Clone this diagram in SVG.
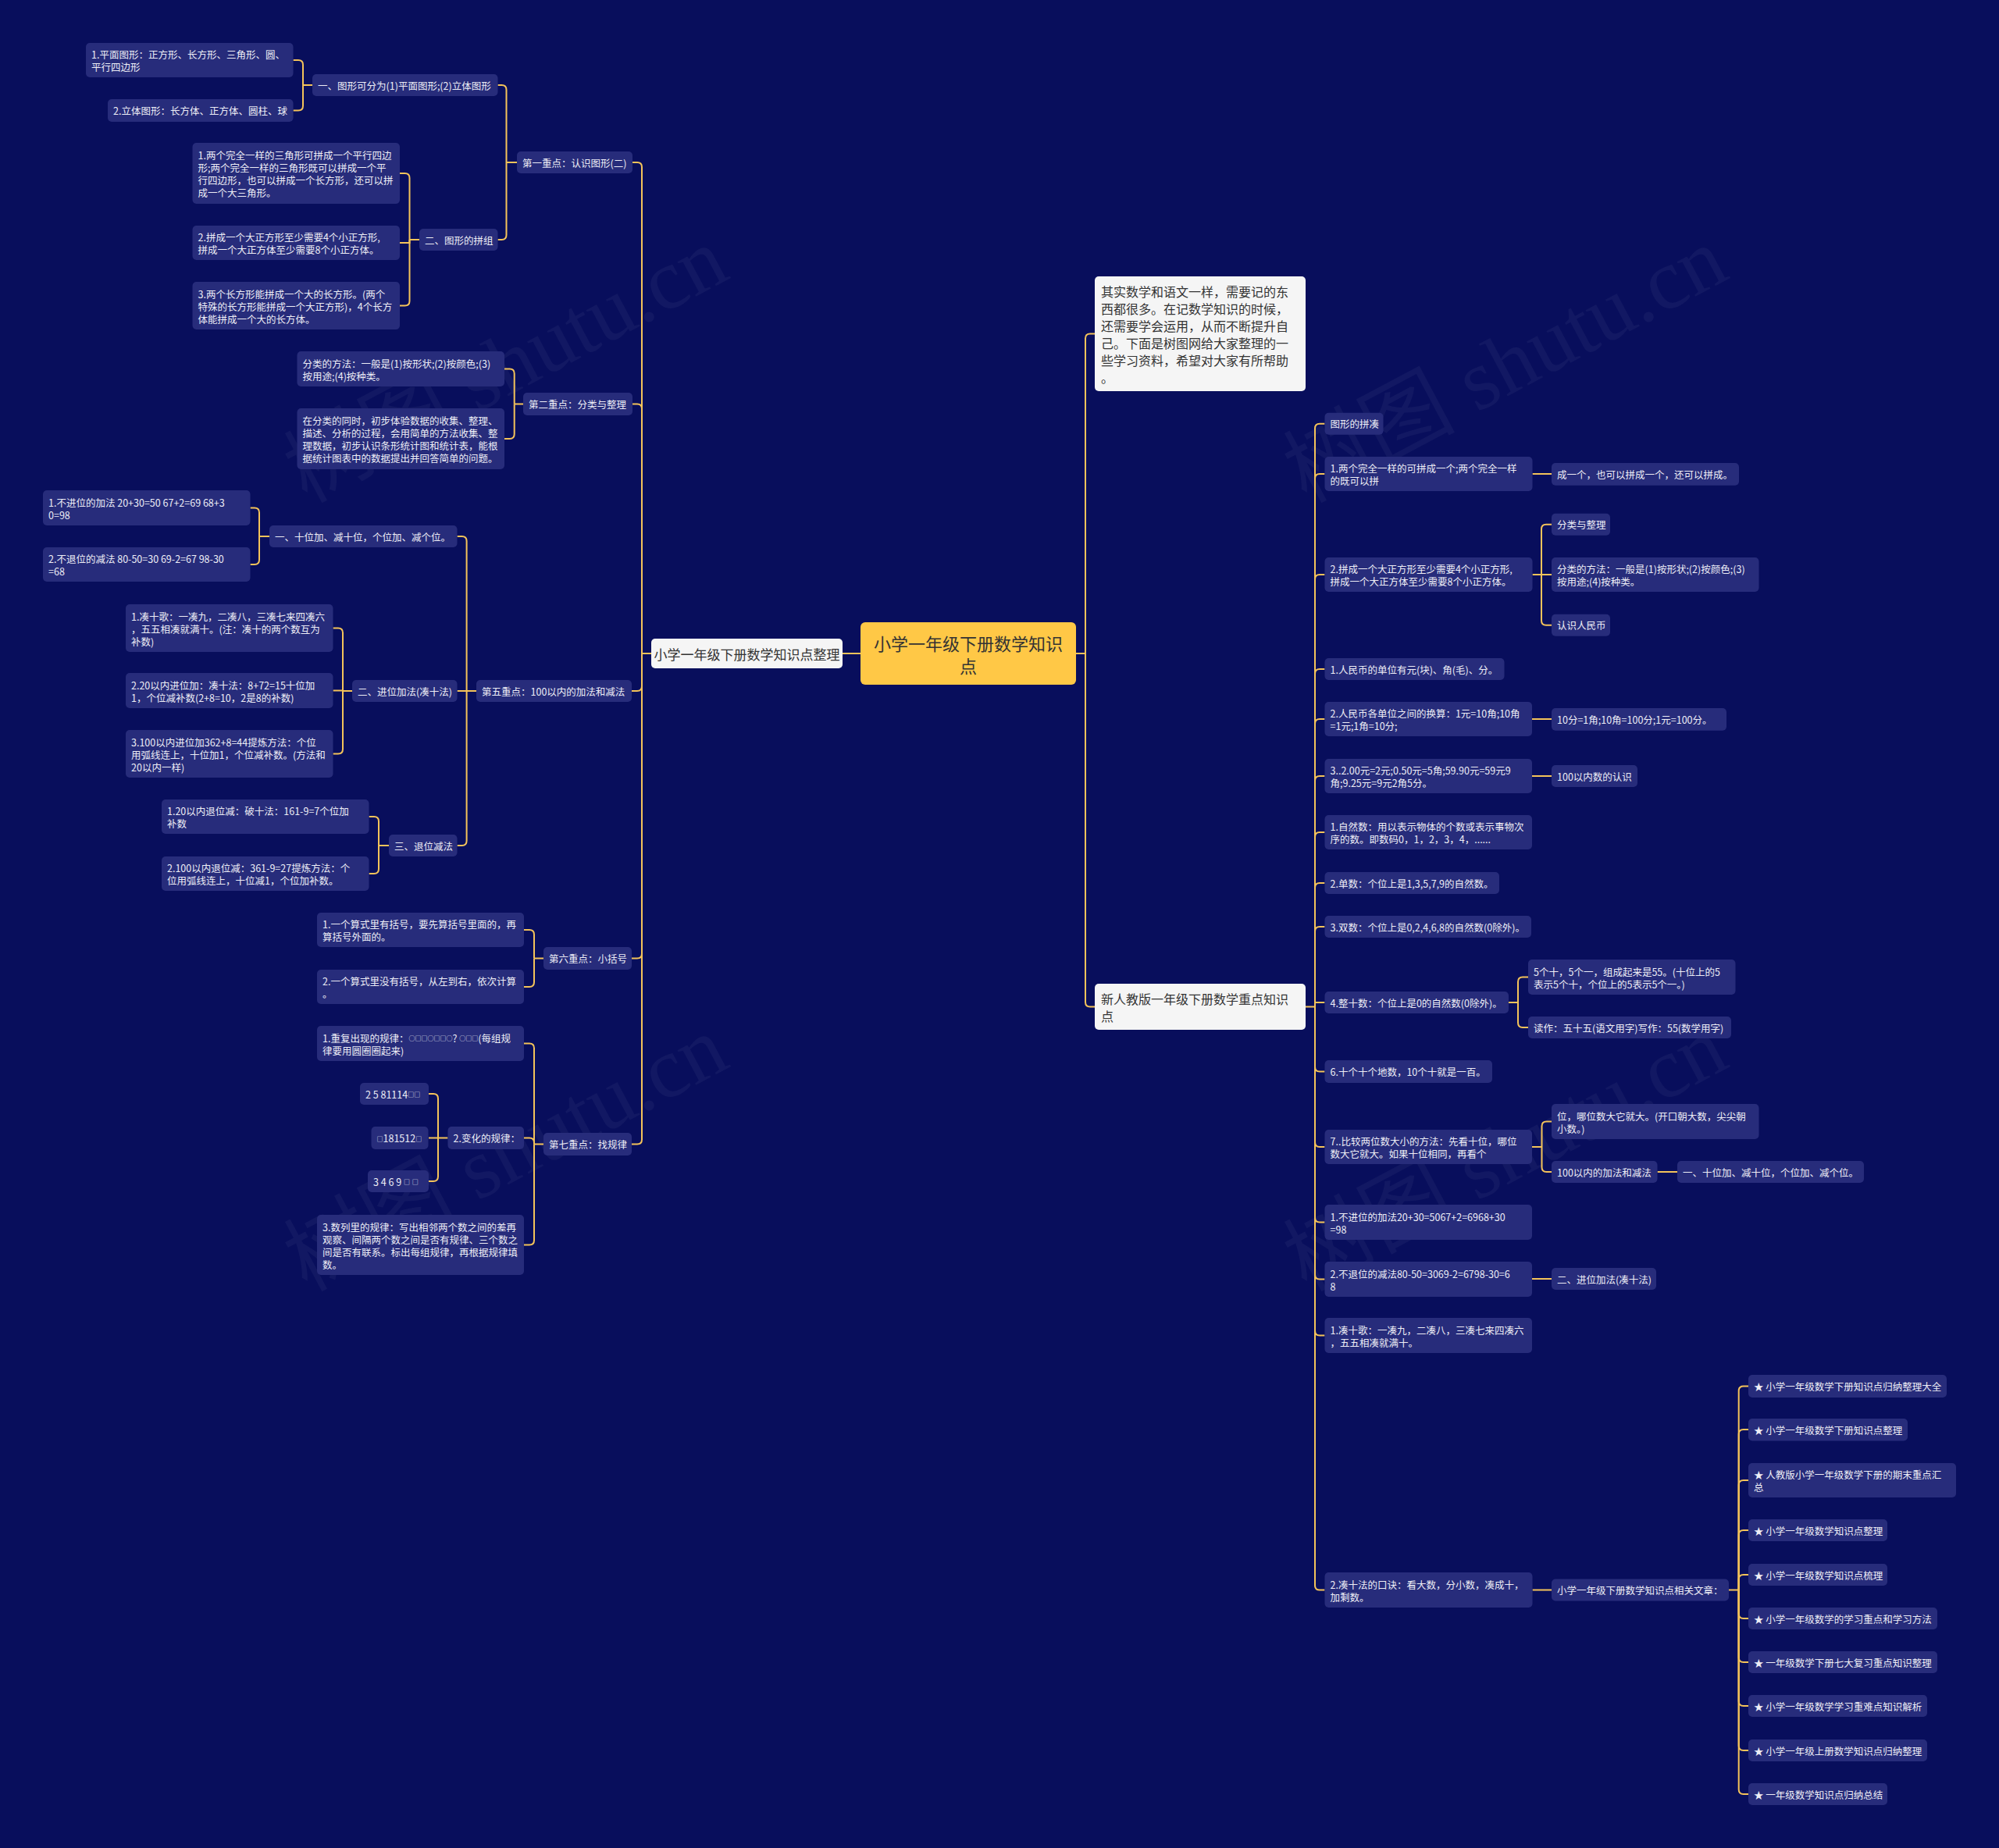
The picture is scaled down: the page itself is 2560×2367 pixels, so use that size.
<svg xmlns="http://www.w3.org/2000/svg" width="2560" height="2367" viewBox="0 0 2560 2367">
<style>
.n{fill:#272C7B}
.wb{fill:#F5F5F5}
.t{font-family:"Noto Sans CJK SC","Noto Sans",sans-serif;font-size:12.5px;fill:#EEEEF6;dominant-baseline:central}
.tw{font-family:"Noto Sans CJK SC","Noto Sans",sans-serif;font-size:16px;fill:#333333;dominant-baseline:central}
.s{font-size:8px}
.c path{fill:none;stroke:#F4C35A;stroke-width:2}
.wm{font-family:"Liberation Serif","Noto Sans CJK SC",serif;font-size:110px;fill:#FFFFFF;fill-opacity:0.045}
</style>
<rect x="0" y="0" width="2560" height="2367" fill="#080E5C"/>
<g id="watermarks">
<text class="wm" transform="translate(665,500) rotate(-28)" text-anchor="middle">树图 shutu.cn</text>
<text class="wm" transform="translate(665,1510) rotate(-28)" text-anchor="middle">树图 shutu.cn</text>
<text class="wm" transform="translate(1945,500) rotate(-28)" text-anchor="middle">树图 shutu.cn</text>
<text class="wm" transform="translate(1945,1510) rotate(-28)" text-anchor="middle">树图 shutu.cn</text>
</g>
<g class="c" id="connectors">
<path d="M1102 837H1079"/>
<path d="M834 837H822"/>
<path d="M810 208H816Q822 208 822 214V837"/>
<path d="M810 517.5H816Q822 517.5 822 523.5V837"/>
<path d="M809 885H816Q822 885 822 879V837"/>
<path d="M809 1227.5H816Q822 1227.5 822 1221.5V837"/>
<path d="M809 1465.5H816Q822 1465.5 822 1459.5V837"/>
<path d="M662 208H648.5"/>
<path d="M637.5 109H642.5Q648.5 109 648.5 115V208"/>
<path d="M637.5 307H642.5Q648.5 307 648.5 301V208"/>
<path d="M400 109H388"/>
<path d="M375.5 77H382Q388 77 388 83V109"/>
<path d="M375.5 141.5H382Q388 141.5 388 135.5V109"/>
<path d="M537 307H524.5"/>
<path d="M512 222H518.5Q524.5 222 524.5 228V307"/>
<path d="M512 311H524.5V307"/>
<path d="M512 391.5H518.5Q524.5 391.5 524.5 385.5V307"/>
<path d="M670 517.5H658.7"/>
<path d="M646 472.5H652.7Q658.7 472.5 658.7 478.5V517.5"/>
<path d="M646 562H652.7Q658.7 562 658.7 556V517.5"/>
<path d="M610 885H597.6"/>
<path d="M585.5 687H591.6Q597.6 687 597.6 693V885"/>
<path d="M585.5 885H597.6"/>
<path d="M585.5 1083H591.6Q597.6 1083 597.6 1077V885"/>
<path d="M345 687H332"/>
<path d="M320.5 650.5H326Q332 650.5 332 656.5V687"/>
<path d="M320.5 723H326Q332 723 332 717V687"/>
<path d="M451 885H439"/>
<path d="M426.5 804.5H433Q439 804.5 439 810.5V885"/>
<path d="M426.5 884.5H439"/>
<path d="M426.5 965.5H433Q439 965.5 439 959.5V885"/>
<path d="M498 1083H485"/>
<path d="M472.5 1046H479Q485 1046 485 1052V1083"/>
<path d="M472.5 1119H479Q485 1119 485 1113V1083"/>
<path d="M696 1227.5H684"/>
<path d="M671 1191H678Q684 1191 684 1197V1227.5"/>
<path d="M671 1264H678Q684 1264 684 1258V1227.5"/>
<path d="M696 1465.5H684"/>
<path d="M671 1336.5H678Q684 1336.5 684 1342.5V1465.5"/>
<path d="M671 1457.5H678Q684 1457.5 684 1463.5V1465.5"/>
<path d="M671 1594.5H678Q684 1594.5 684 1588.5V1465.5"/>
<path d="M573.5 1457.5H561"/>
<path d="M549 1401H555Q561 1401 561 1407V1457.5"/>
<path d="M549 1457.5H561"/>
<path d="M549 1513H555Q561 1513 561 1507V1457.5"/>
<path d="M1378 837H1390"/>
<path d="M1402 427.5H1396Q1390 427.5 1390 433.5V837"/>
<path d="M1402 1289.5H1396Q1390 1289.5 1390 1283.5V837"/>
<path d="M1672 1289.5H1684"/>
<path d="M1696.5 542.7H1690Q1684 542.7 1684 548.7V1289.5"/>
<path d="M1696.5 607H1690Q1684 607 1684 613V1289.5"/>
<path d="M1696.5 736H1690Q1684 736 1684 742V1289.5"/>
<path d="M1696.5 857H1690Q1684 857 1684 863V1289.5"/>
<path d="M1696.5 921H1690Q1684 921 1684 927V1289.5"/>
<path d="M1696.5 994H1690Q1684 994 1684 1000V1289.5"/>
<path d="M1696.5 1066H1690Q1684 1066 1684 1072V1289.5"/>
<path d="M1696.5 1131H1690Q1684 1131 1684 1137V1289.5"/>
<path d="M1696.5 1187H1690Q1684 1187 1684 1193V1289.5"/>
<path d="M1696.5 1284H1684V1289.5"/>
<path d="M1696.5 1372.5H1690Q1684 1372.5 1684 1366.5V1289.5"/>
<path d="M1696.5 1469H1690Q1684 1469 1684 1463V1289.5"/>
<path d="M1696.5 1565.5H1690Q1684 1565.5 1684 1559.5V1289.5"/>
<path d="M1696.5 1638.5H1690Q1684 1638.5 1684 1632.5V1289.5"/>
<path d="M1696.5 1710.5H1690Q1684 1710.5 1684 1704.5V1289.5"/>
<path d="M1696.5 2036.5H1690Q1684 2036.5 1684 2030.5V1289.5"/>
<path d="M1962.5 607H1987"/>
<path d="M1962.5 736H1974"/>
<path d="M1987 671.7H1980Q1974 671.7 1974 677.7V736"/>
<path d="M1987 736H1974"/>
<path d="M1987 800.7H1980Q1974 800.7 1974 794.7V736"/>
<path d="M1962 921H1987"/>
<path d="M1962 994H1987"/>
<path d="M1932 1284H1944"/>
<path d="M1957 1251.5H1950Q1944 1251.5 1944 1257.5V1284"/>
<path d="M1957 1316H1950Q1944 1316 1944 1310V1284"/>
<path d="M1962 1469H1974.5"/>
<path d="M1987 1436.5H1980.5Q1974.5 1436.5 1974.5 1442.5V1469"/>
<path d="M1987 1501H1980.5Q1974.5 1501 1974.5 1495V1469"/>
<path d="M2122.5 1501H2148"/>
<path d="M1962 1638H1987"/>
<path d="M1962.5 2036.5H1987"/>
<path d="M2214 2036.5H2226.7"/>
<path d="M2239 1775.5H2232.7Q2226.7 1775.5 2226.7 1781.5V2036.5"/>
<path d="M2239 1831H2232.7Q2226.7 1831 2226.7 1837V2036.5"/>
<path d="M2239 1896H2232.7Q2226.7 1896 2226.7 1902V2036.5"/>
<path d="M2239 1960H2232.7Q2226.7 1960 2226.7 1966V2036.5"/>
<path d="M2239 2017H2232.7Q2226.7 2017 2226.7 2023V2036.5"/>
<path d="M2239 2073H2232.7Q2226.7 2073 2226.7 2067V2036.5"/>
<path d="M2239 2129H2232.7Q2226.7 2129 2226.7 2123V2036.5"/>
<path d="M2239 2185H2232.7Q2226.7 2185 2226.7 2179V2036.5"/>
<path d="M2239 2242H2232.7Q2226.7 2242 2226.7 2236V2036.5"/>
<path d="M2239 2298H2232.7Q2226.7 2298 2226.7 2292V2036.5"/>
</g>
<g id="root"><rect x="1102" y="797" width="276" height="80" rx="6" fill="#FFC846"/><text font-family="'Noto Sans CJK SC',sans-serif" font-size="22" fill="#333333" dominant-baseline="central" text-anchor="middle"><tspan x="1240" y="823">小学一年级下册数学知识</tspan><tspan x="1240" y="852">点</tspan></text></g>
<g id="L0"><rect class="wb" x="834" y="818" width="245" height="38" rx="5"/><text class="tw" style="font-size:17px" x="956.5" y="837" text-anchor="middle">小学一年级下册数学知识点整理</text></g>
<g id="A1"><rect class="n" x="662" y="194" width="148" height="28" rx="5"/><text class="t" x="669" y="208">第一重点：认识图形(二)</text></g>
<g id="A2"><rect class="n" x="670" y="503" width="140" height="29" rx="5"/><text class="t" x="677" y="517.5">第二重点：分类与整理</text></g>
<g id="A5"><rect class="n" x="610" y="871" width="199" height="28" rx="5"/><text class="t" x="617" y="885">第五重点：100以内的加法和减法</text></g>
<g id="A6"><rect class="n" x="696" y="1213" width="113" height="29" rx="5"/><text class="t" x="703" y="1227.5">第六重点：小括号</text></g>
<g id="A7"><rect class="n" x="696" y="1451" width="113" height="29" rx="5"/><text class="t" x="703" y="1465.5">第七重点：找规律</text></g>
<g id="B1"><rect class="n" x="400" y="95" width="237.5" height="28" rx="5"/><text class="t" x="407" y="109">一、图形可分为(1)平面图形;(2)立体图形</text></g>
<g id="B2"><rect class="n" x="537" y="293" width="100.5" height="28" rx="5"/><text class="t" x="544" y="307">二、图形的拼组</text></g>
<g id="C1"><rect class="n" x="110" y="55" width="265.5" height="44" rx="5"/><text class="t"><tspan x="117" y="69">1.平面图形：正方形、长方形、三角形、圆、</tspan><tspan x="117" y="85">平行四边形</tspan></text></g>
<g id="C2"><rect class="n" x="138" y="127" width="237.5" height="29" rx="5"/><text class="t" x="145" y="141.5">2.立体图形：长方体、正方体、圆柱、球</text></g>
<g id="C3"><rect class="n" x="246.5" y="183" width="265.5" height="78" rx="5"/><text class="t"><tspan x="253.5" y="198">1.两个完全一样的三角形可拼成一个平行四边</tspan><tspan x="253.5" y="214">形;两个完全一样的三角形既可以拼成一个平</tspan><tspan x="253.5" y="230">行四边形，也可以拼成一个长方形，还可以拼</tspan><tspan x="253.5" y="246">成一个大三角形。</tspan></text></g>
<g id="C4"><rect class="n" x="246.5" y="289" width="265.5" height="44" rx="5"/><text class="t"><tspan x="253.5" y="303">2.拼成一个大正方形至少需要4个小正方形,</tspan><tspan x="253.5" y="319">拼成一个大正方体至少需要8个小正方体。</tspan></text></g>
<g id="C5"><rect class="n" x="246.5" y="361" width="265.5" height="61" rx="5"/><text class="t"><tspan x="253.5" y="375.5">3.两个长方形能拼成一个大的长方形。(两个</tspan><tspan x="253.5" y="391.5">特殊的长方形能拼成一个大正方形)，4个长方</tspan><tspan x="253.5" y="407.5">体能拼成一个大的长方体。</tspan></text></g>
<g id="C6"><rect class="n" x="380.5" y="450" width="265.5" height="45" rx="5"/><text class="t"><tspan x="387.5" y="464.5">分类的方法：一般是(1)按形状;(2)按颜色;(3)</tspan><tspan x="387.5" y="480.5">按用途;(4)按种类。</tspan></text></g>
<g id="C7"><rect class="n" x="380.5" y="523" width="265.5" height="78" rx="5"/><text class="t"><tspan x="387.5" y="538">在分类的同时，初步体验数据的收集、整理、</tspan><tspan x="387.5" y="554">描述、分析的过程，会用简单的方法收集、整</tspan><tspan x="387.5" y="570">理数据，初步认识条形统计图和统计表，能根</tspan><tspan x="387.5" y="586">据统计图表中的数据提出并回答简单的问题。</tspan></text></g>
<g id="B3"><rect class="n" x="345" y="673" width="240.5" height="28" rx="5"/><text class="t" x="352" y="687">一、十位加、减十位，个位加、减个位。</text></g>
<g id="B4"><rect class="n" x="451" y="871" width="134.5" height="28" rx="5"/><text class="t" x="458" y="885">二、进位加法(凑十法)</text></g>
<g id="B5"><rect class="n" x="498" y="1069" width="87.5" height="28" rx="5"/><text class="t" x="505" y="1083">三、退位减法</text></g>
<g id="C8"><rect class="n" x="55" y="628" width="265.5" height="45" rx="5"/><text class="t"><tspan x="62" y="642.5">1.不进位的加法 20+30=50 67+2=69 68+3</tspan><tspan x="62" y="658.5">0=98</tspan></text></g>
<g id="C9"><rect class="n" x="55" y="701" width="265.5" height="44" rx="5"/><text class="t"><tspan x="62" y="715">2.不退位的减法 80-50=30 69-2=67 98-30</tspan><tspan x="62" y="731">=68</tspan></text></g>
<g id="C10"><rect class="n" x="161" y="774" width="265.5" height="61" rx="5"/><text class="t"><tspan x="168" y="788.5">1.凑十歌：一凑九，二凑八，三凑七来四凑六</tspan><tspan x="168" y="804.5">，五五相凑就满十。(注：凑十的两个数互为</tspan><tspan x="168" y="820.5">补数)</tspan></text></g>
<g id="C11"><rect class="n" x="161" y="862" width="265.5" height="45" rx="5"/><text class="t"><tspan x="168" y="876.5">2.20以内进位加：凑十法：8+72=15十位加</tspan><tspan x="168" y="892.5">1，个位减补数(2+8=10，2是8的补数)</tspan></text></g>
<g id="C12"><rect class="n" x="161" y="935" width="265.5" height="61" rx="5"/><text class="t"><tspan x="168" y="949.5">3.100以内进位加362+8=44提炼方法：个位</tspan><tspan x="168" y="965.5">用弧线连上，十位加1，个位减补数。(方法和</tspan><tspan x="168" y="981.5">20以内一样)</tspan></text></g>
<g id="C13"><rect class="n" x="207" y="1024" width="265.5" height="44" rx="5"/><text class="t"><tspan x="214" y="1038">1.20以内退位减：破十法：161-9=7个位加</tspan><tspan x="214" y="1054">补数</tspan></text></g>
<g id="C14"><rect class="n" x="207" y="1097" width="265.5" height="44" rx="5"/><text class="t"><tspan x="214" y="1111">2.100以内退位减：361-9=27提炼方法：个</tspan><tspan x="214" y="1127">位用弧线连上，十位减1，个位加补数。</tspan></text></g>
<g id="C15"><rect class="n" x="406" y="1169" width="265" height="44" rx="5"/><text class="t"><tspan x="413" y="1183">1.一个算式里有括号，要先算括号里面的，再</tspan><tspan x="413" y="1199">算括号外面的。</tspan></text></g>
<g id="C16"><rect class="n" x="406" y="1242" width="265" height="44" rx="5"/><text class="t"><tspan x="413" y="1256">2.一个算式里没有括号，从左到右，依次计算</tspan><tspan x="413" y="1272">。</tspan></text></g>
<g id="C17"><rect class="n" x="406" y="1314" width="265" height="45" rx="5"/><text class="t"><tspan x="413" y="1328.5">1.重复出现的规律：<tspan class="s">○□□○□□○</tspan>? <tspan class="s">○□□</tspan>(每组规</tspan><tspan x="413" y="1344.5">律要用圆圈圈起来)</tspan></text></g>
<g id="B6"><rect class="n" x="573.5" y="1443" width="97.5" height="29" rx="5"/><text class="t" x="580.5" y="1457.5">2.变化的规律：</text></g>
<g id="C18"><rect class="n" x="406" y="1556" width="265" height="77" rx="5"/><text class="t"><tspan x="413" y="1570.5">3.数列里的规律：写出相邻两个数之间的差再</tspan><tspan x="413" y="1586.5">观察、间隔两个数之间是否有规律、三个数之</tspan><tspan x="413" y="1602.5">间是否有联系。标出每组规律，再根据规律填</tspan><tspan x="413" y="1618.5">数。</tspan></text></g>
<g id="D1"><rect class="n" x="461" y="1387" width="88" height="28" rx="5"/><text class="t" x="468" y="1401">2 5 81114<tspan class="s">□□</tspan></text></g>
<g id="D2"><rect class="n" x="475.5" y="1443" width="73" height="29" rx="5"/><text class="t" x="482.5" y="1457.5"><tspan class="s">□</tspan>181512<tspan class="s">□</tspan></text></g>
<g id="D3"><rect class="n" x="471" y="1499" width="78" height="28" rx="5"/><text class="t" x="478" y="1513">3 4 6 9 <tspan class="s">□</tspan> <tspan class="s">□</tspan></text></g>
<g id="R1"><rect class="wb" x="1402" y="354" width="270" height="147" rx="5"/><text class="tw"><tspan x="1410" y="372.5">其实数学和语文一样，需要记的东</tspan><tspan x="1410" y="394.5">西都很多。在记数学知识的时候，</tspan><tspan x="1410" y="416.5">还需要学会运用，从而不断提升自</tspan><tspan x="1410" y="438.5">己。下面是树图网给大家整理的一</tspan><tspan x="1410" y="460.5">些学习资料，希望对大家有所帮助</tspan><tspan x="1410" y="482.5">。</tspan></text></g>
<g id="R2"><rect class="wb" x="1402" y="1260" width="270" height="59" rx="5"/><text class="tw"><tspan x="1410" y="1278.5">新人教版一年级下册数学重点知识</tspan><tspan x="1410" y="1300.5">点</tspan></text></g>
<g id="S1"><rect class="n" x="1696.5" y="528.7" width="75" height="28" rx="5"/><text class="t" x="1703.5" y="542.7">图形的拼凑</text></g>
<g id="S2"><rect class="n" x="1696.5" y="585" width="266" height="44" rx="5"/><text class="t"><tspan x="1703.5" y="599">1.两个完全一样的可拼成一个;两个完全一样</tspan><tspan x="1703.5" y="615">的既可以拼</tspan></text></g>
<g id="T1"><rect class="n" x="1987" y="593" width="240" height="28.7" rx="5"/><text class="t" x="1994" y="607">成一个，也可以拼成一个，还可以拼成。</text></g>
<g id="S3"><rect class="n" x="1696.5" y="714" width="266" height="44" rx="5"/><text class="t"><tspan x="1703.5" y="728">2.拼成一个大正方形至少需要4个小正方形,</tspan><tspan x="1703.5" y="744">拼成一个大正方体至少需要8个小正方体。</tspan></text></g>
<g id="T2"><rect class="n" x="1987" y="657.7" width="75" height="28" rx="5"/><text class="t" x="1994" y="671.7">分类与整理</text></g>
<g id="T3"><rect class="n" x="1987" y="714" width="265.5" height="44" rx="5"/><text class="t"><tspan x="1994" y="728">分类的方法：一般是(1)按形状;(2)按颜色;(3)</tspan><tspan x="1994" y="744">按用途;(4)按种类。</tspan></text></g>
<g id="T4"><rect class="n" x="1987" y="786.7" width="75" height="28" rx="5"/><text class="t" x="1994" y="800.7">认识人民币</text></g>
<g id="S4"><rect class="n" x="1696.5" y="843" width="230" height="28" rx="5"/><text class="t" x="1703.5" y="857">1.人民币的单位有元(块)、角(毛)、分。</text></g>
<g id="S5"><rect class="n" x="1696.5" y="899" width="265.5" height="44" rx="5"/><text class="t"><tspan x="1703.5" y="913">2.人民币各单位之间的换算：1元=10角;10角</tspan><tspan x="1703.5" y="929">=1元;1角=10分;</tspan></text></g>
<g id="T5"><rect class="n" x="1987" y="907" width="224" height="28.7" rx="5"/><text class="t" x="1994" y="921">10分=1角;10角=100分;1元=100分。</text></g>
<g id="S6"><rect class="n" x="1696.5" y="972" width="265.5" height="44" rx="5"/><text class="t"><tspan x="1703.5" y="986">3..2.00元=2元;0.50元=5角;59.90元=59元9</tspan><tspan x="1703.5" y="1002">角;9.25元=9元2角5分。</tspan></text></g>
<g id="T6"><rect class="n" x="1987" y="980" width="110" height="28" rx="5"/><text class="t" x="1994" y="994">100以内数的认识</text></g>
<g id="S7"><rect class="n" x="1696.5" y="1044" width="265.5" height="44" rx="5"/><text class="t"><tspan x="1703.5" y="1058">1.自然数：用以表示物体的个数或表示事物次</tspan><tspan x="1703.5" y="1074">序的数。即数码0，1，2，3，4，......</tspan></text></g>
<g id="S8"><rect class="n" x="1696.5" y="1117" width="223.5" height="28" rx="5"/><text class="t" x="1703.5" y="1131">2.单数：个位上是1,3,5,7,9的自然数。</text></g>
<g id="S9"><rect class="n" x="1696.5" y="1173" width="264.5" height="28" rx="5"/><text class="t" x="1703.5" y="1187">3.双数：个位上是0,2,4,6,8的自然数(0除外)。</text></g>
<g id="S10"><rect class="n" x="1696.5" y="1270" width="235.5" height="28" rx="5"/><text class="t" x="1703.5" y="1284">4.整十数：个位上是0的自然数(0除外)。</text></g>
<g id="T7"><rect class="n" x="1957" y="1229" width="265.5" height="45" rx="5"/><text class="t"><tspan x="1964" y="1243.5">5个十，5个一，组成起来是55。(十位上的5</tspan><tspan x="1964" y="1259.5">表示5个十，个位上的5表示5个一。)</tspan></text></g>
<g id="T8"><rect class="n" x="1957" y="1302" width="260" height="28" rx="5"/><text class="t" x="1964" y="1316">读作：五十五(语文用字)写作：55(数学用字)</text></g>
<g id="S11"><rect class="n" x="1696.5" y="1358" width="214.5" height="29" rx="5"/><text class="t" x="1703.5" y="1372.5">6.十个十个地数，10个十就是一百。</text></g>
<g id="S12"><rect class="n" x="1696.5" y="1447" width="265.5" height="44" rx="5"/><text class="t"><tspan x="1703.5" y="1461">7..比较两位数大小的方法：先看十位，哪位</tspan><tspan x="1703.5" y="1477">数大它就大。如果十位相同，再看个</tspan></text></g>
<g id="T9"><rect class="n" x="1987" y="1414" width="265.5" height="45" rx="5"/><text class="t"><tspan x="1994" y="1428.5">位，哪位数大它就大。(开口朝大数，尖尖朝</tspan><tspan x="1994" y="1444.5">小数。)</tspan></text></g>
<g id="T10"><rect class="n" x="1987" y="1487" width="135.5" height="28" rx="5"/><text class="t" x="1994" y="1501">100以内的加法和减法</text></g>
<g id="U1"><rect class="n" x="2148" y="1487" width="239" height="28" rx="5"/><text class="t" x="2155" y="1501">一、十位加、减十位，个位加、减个位。</text></g>
<g id="S13"><rect class="n" x="1696.5" y="1543" width="265.5" height="45" rx="5"/><text class="t"><tspan x="1703.5" y="1557.5">1.不进位的加法20+30=5067+2=6968+30</tspan><tspan x="1703.5" y="1573.5">=98</tspan></text></g>
<g id="S14"><rect class="n" x="1696.5" y="1616" width="265.5" height="45" rx="5"/><text class="t"><tspan x="1703.5" y="1630.5">2.不退位的减法80-50=3069-2=6798-30=6</tspan><tspan x="1703.5" y="1646.5">8</tspan></text></g>
<g id="T11"><rect class="n" x="1987" y="1624" width="134" height="28" rx="5"/><text class="t" x="1994" y="1638">二、进位加法(凑十法)</text></g>
<g id="S15"><rect class="n" x="1696.5" y="1688" width="265.5" height="45" rx="5"/><text class="t"><tspan x="1703.5" y="1702.5">1.凑十歌：一凑九，二凑八，三凑七来四凑六</tspan><tspan x="1703.5" y="1718.5">，五五相凑就满十。</tspan></text></g>
<g id="S16"><rect class="n" x="1696.5" y="2014" width="266" height="45" rx="5"/><text class="t"><tspan x="1703.5" y="2028.5">2.凑十法的口诀：看大数，分小数，凑成十，</tspan><tspan x="1703.5" y="2044.5">加剩数。</tspan></text></g>
<g id="T12"><rect class="n" x="1987" y="2022.5" width="227" height="28" rx="5"/><text class="t" x="1994" y="2036.5">小学一年级下册数学知识点相关文章：</text></g>
<g id="V1"><rect class="n" x="2239" y="1761" width="254" height="29" rx="5"/><text class="t" x="2246" y="1775.5">★ 小学一年级数学下册知识点归纳整理大全</text></g>
<g id="V2"><rect class="n" x="2239" y="1817" width="204" height="28.5" rx="5"/><text class="t" x="2246" y="1831">★ 小学一年级数学下册知识点整理</text></g>
<g id="V3"><rect class="n" x="2239" y="1874" width="266" height="44" rx="5"/><text class="t"><tspan x="2246" y="1888">★ 人教版小学一年级数学下册的期末重点汇</tspan><tspan x="2246" y="1904">总</tspan></text></g>
<g id="V4"><rect class="n" x="2239" y="1946" width="178" height="28" rx="5"/><text class="t" x="2246" y="1960">★ 小学一年级数学知识点整理</text></g>
<g id="V5"><rect class="n" x="2239" y="2003" width="178" height="28" rx="5"/><text class="t" x="2246" y="2017">★ 小学一年级数学知识点梳理</text></g>
<g id="V6"><rect class="n" x="2239" y="2059" width="242" height="28" rx="5"/><text class="t" x="2246" y="2073">★ 小学一年级数学的学习重点和学习方法</text></g>
<g id="V7"><rect class="n" x="2239" y="2115" width="242" height="28" rx="5"/><text class="t" x="2246" y="2129">★ 一年级数学下册七大复习重点知识整理</text></g>
<g id="V8"><rect class="n" x="2239" y="2171" width="229" height="28" rx="5"/><text class="t" x="2246" y="2185">★ 小学一年级数学学习重难点知识解析</text></g>
<g id="V9"><rect class="n" x="2239" y="2228" width="229" height="28" rx="5"/><text class="t" x="2246" y="2242">★ 小学一年级上册数学知识点归纳整理</text></g>
<g id="V10"><rect class="n" x="2239" y="2284" width="178" height="28" rx="5"/><text class="t" x="2246" y="2298">★ 一年级数学知识点归纳总结</text></g>
</svg>
